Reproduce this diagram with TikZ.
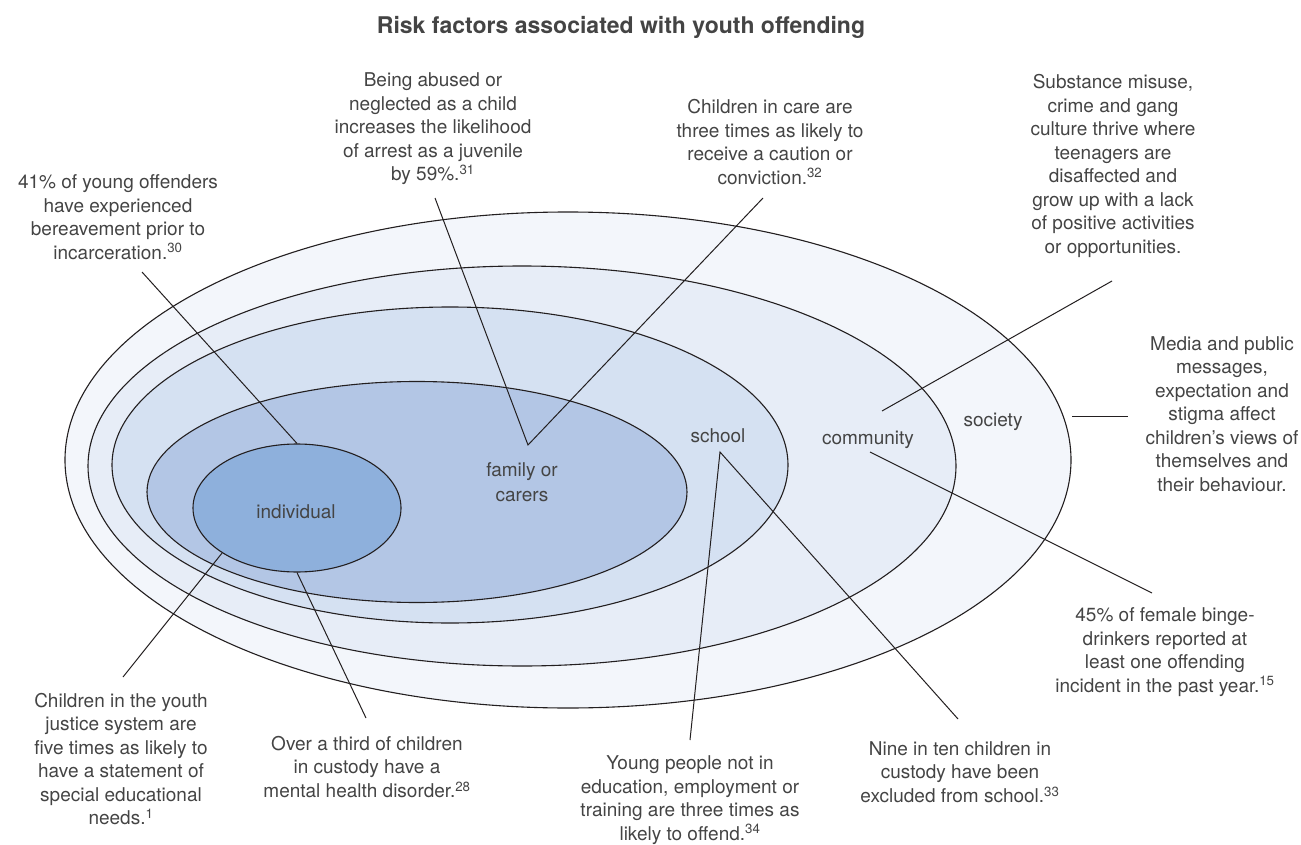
\documentclass[tikz,border=0pt]{standalone}
\usepackage{fontspec}
\setmainfont{TeX Gyre Heros}
\usepackage{xcolor}
\usepackage{tikz}
\usetikzlibrary{shapes.geometric,positioning}

\definecolor{inkline}{HTML}{231F20}
\definecolor{inktext}{HTML}{444444}
\definecolor{indivfill}{HTML}{8EB0DC}
\definecolor{familyfill}{HTML}{B3C6E5}
\definecolor{schoolfill}{HTML}{D5E1F2}
\definecolor{commfill}{HTML}{E7EDF7}
\definecolor{societyfill}{HTML}{F3F6FB}

\newcommand{\refnum}[1]{\textsuperscript{#1}}

\tikzset{
  zone/.style={ellipse, draw=inkline, line width=1.1pt, inner sep=0pt},
  zonelabel/.style={align=center, text=inktext, font=\fontsize{19}{24.5}\selectfont},
  note/.style={align=center, text=inktext, font=\fontsize{19}{23.5}\selectfont},
  leader/.style={draw=inkline, line width=1pt},
}

\begin{document}
\begin{tikzpicture}[x=1pt,y=-1pt]
    \useasboundingbox (0,0) rectangle (1301,845);

    % Title
    \node[font=\bfseries\fontsize{23}{27}\selectfont, text=inktext] (title) at (621,27) {Risk factors associated with youth offending};

    % Nested zones, outermost first
    \node[zone, fill=societyfill, minimum width=1006pt, minimum height=496pt] (society) at (568,460) {};
    \node[zone, fill=commfill, minimum width=868pt, minimum height=400pt] (community) at (522,466) {};
    \node[zone, fill=schoolfill, minimum width=676pt, minimum height=316pt] (school) at (450,465) {};
    \node[zone, fill=familyfill, minimum width=540pt, minimum height=221pt] (family) at (417,492) {};
    \node[zone, fill=indivfill, minimum width=208pt, minimum height=128pt] (individual) at (297,508) {};

    % Zone labels
    \node[zonelabel] (lblsociety) at (993,422) {society};
    \node[zonelabel] (lblcommunity) at (868,440) {community};
    \node[zonelabel] (lblschool) at (718,436) {school};
    \node[zonelabel] (lblfamily) at (522,482) {family or\\carers};
    \node[zonelabel] (lblindividual) at (296,512) {individual};

    % Notes round the edge
    \node[note] (bereave) at (118,217) {41\% of young offenders\\have experienced\\bereavement prior to\\incarceration.\refnum{30}};
    \node[note] (abuse) at (433,129) {Being abused or\\neglected as a child\\increases the likelihood\\of arrest as a juvenile\\by 59\%.\refnum{31}};
    \node[note] (care) at (770,142) {Children in care are\\three times as likely to\\receive a caution or\\conviction.\refnum{32}};
    \node[note] (gang) at (1113,166) {Substance misuse,\\crime and gang\\culture thrive where\\teenagers are\\disaffected and\\grow up with a lack\\of positive activities\\or opportunities.};
    \node[note] (media) at (1222,414) {Media and public\\messages,\\expectation and\\stigma affect\\children’s views of\\themselves and\\their behaviour.};
    \node[note] (binge) at (1165,652) {45\% of female binge-\\drinkers reported at\\least one offending\\incident in the past year.\refnum{15}};
    \node[note] (excluded) at (960,772) {Nine in ten children in\\custody have been\\excluded from school.\refnum{33}};
    \node[note] (neet) at (690,800) {Young people not in\\education, employment or\\training are three times as\\likely to offend.\refnum{34}};
    \node[note] (mental) at (367,767) {Over a third of children\\in custody have a\\mental health disorder.\refnum{28}};
    \node[note] (send) at (121,759) {Children in the youth\\justice system are\\five times as likely to\\have a statement of\\special educational\\needs.\refnum{1}};

    % Leader ends
    \coordinate (bereaveTop) at (142,272);
    \coordinate (abuseTop) at (435,198);
    \coordinate (careTop) at (763,198);
    \coordinate (vtip) at (528,445);
    \coordinate (gangTop) at (1112,281);
    \coordinate (gangEnd) at (882,411);
    \coordinate (mediaL) at (1072,416);
    \coordinate (mediaR) at (1128,416);
    \coordinate (bingeStart) at (870,452);
    \coordinate (bingeEnd) at (1152,593);
    \coordinate (schoolpt) at (720,452);
    \coordinate (excludedEnd) at (958,719);
    \coordinate (neetEnd) at (690,740);
    \coordinate (mentalEnd) at (366,718);
    \coordinate (sendEnd) at (123,677);

    % Leaders
    \draw[leader] (bereaveTop) -- (individual.north);
    \draw[leader] (abuseTop) -- (vtip) -- (careTop);
    \draw[leader] (gangTop) -- (gangEnd);
    \draw[leader] (mediaL) -- (mediaR);
    \draw[leader] (bingeStart) -- (bingeEnd);
    \draw[leader] (neetEnd) -- (schoolpt) -- (excludedEnd);
    \draw[leader] (individual.south) -- (mentalEnd);
    \draw[leader] (individual.211) -- (sendEnd);
\end{tikzpicture}
\end{document}
